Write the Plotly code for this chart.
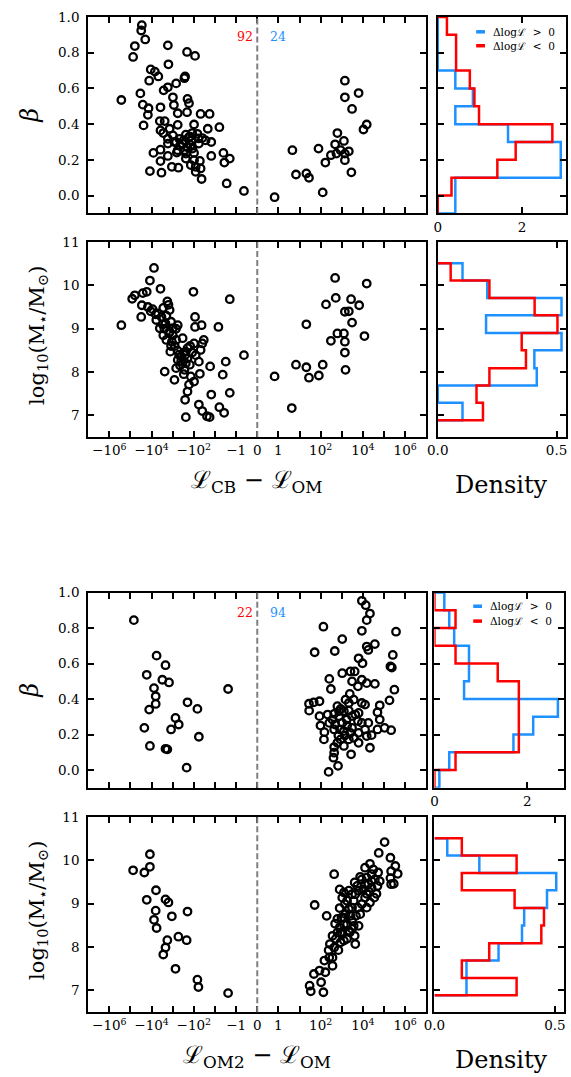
import numpy as np
import plotly.graph_objects as go

W, H = 571, 1077
FONT = "DejaVu Serif"
RED = "#ff0000"
BLUE = "#1e90ff"

# ---------------- data: L_CB - L_OM block ----------------
cb_beta_dL = [
    -2.9e4, -3.1e4, -2.0e4, -6.2e4, -7.5e4, -1.7e3, -210, -88, -1.6e3, -1.1e4,
    -7.0e3, -4.8e3, -1.3e4, -260, -280, -690, -1.7e3, -2.7e3, -3.4e4, -2.7e5,
    -980, -200, -170, -2.6e4, -1.4e4, -880, -3.8e3, -1.5e4, -580, -210,
    -48, -18, -4.1e3, -2.4e3, -2.4e4, -580, -98, -3.8e3, -1.4e3, -22,
    -6.2, -2.8e3, -980, -240, -170, -68, -40, -1.7e3, -490, -125,
    -28, -15, -1.7e3, -830, -340, -140, -58, -580, -280, -116,
    -3.8e3, -8.2e3, -640, -1.7e3, -240, -98, -15, -4.0, -2.0, -3.6,
    -3.8e3, -240, -98, -52, -140, -82, -1.1e3, -540, -1.2e4, -3.4e3,
    -82, -48, -43, -2.8, -0.63, -300, -150, -200, -450, -120,
    -700, -60,
    0.82, 4.6, 6.8, 21, 28, 79, 125, 167, 305, 483,
    619, 557, 1260, 1400, 1400, 2150, 2840, 1400, 1400, 6240,
    3060, 1.06e4, 1.51e4, 880,
]
cb_beta = [
    0.954, 0.924, 0.874, 0.837, 0.776, 0.841, 0.804, 0.782, 0.735, 0.706,
    0.694, 0.667, 0.643, 0.667, 0.657, 0.628, 0.606, 0.589, 0.572, 0.535,
    0.550, 0.541, 0.517, 0.509, 0.489, 0.507, 0.494, 0.452, 0.461, 0.467,
    0.457, 0.457, 0.417, 0.417, 0.393, 0.396, 0.398, 0.365, 0.374, 0.374,
    0.383, 0.350, 0.337, 0.341, 0.328, 0.346, 0.322, 0.318, 0.318, 0.309,
    0.309, 0.300, 0.291, 0.300, 0.291, 0.282, 0.291, 0.254, 0.254, 0.263,
    0.257, 0.239, 0.241, 0.222, 0.235, 0.239, 0.222, 0.239, 0.207, 0.185,
    0.193, 0.207, 0.198, 0.194, 0.171, 0.161, 0.161, 0.156, 0.137, 0.128,
    0.133, 0.152, 0.093, 0.068, 0.026, 0.310, 0.330, 0.270, 0.280, 0.350,
    0.300, 0.320,
    -0.009, 0.254, 0.118, 0.124, 0.100, 0.263, 0.018, 0.185, 0.226, 0.287,
    0.350, 0.235, 0.306, 0.235, 0.198, 0.248, 0.130, 0.643, 0.550, 0.574,
    0.485, 0.370, 0.398, 0.254,
]
cb_mass_dL = [
    -2.7e5, -8.3e4, -6.2e4, -2.9e4, -3.1e4, -2.6e4, -1.7e4, -1.2e4, -7.7e3, -3.8e3,
    -1.1e4, -6.4e3, -2.8e3, -1.8e3, -3.4e3, -4.1e3, -2.8e3, -2.2e3, -1.4e3, -1.2e3,
    -980, -580, -1.4e3, -2.0e3, -1.1e3, -1.3e3, -690, -340, -580, -2.4e3,
    -830, -280, -240, -200, -200, -155, -240, -98, -82, -105,
    -88, -88, -43, -40, -34, -48, -58, -52, -98, -140,
    -170, -200, -260, -240, -58, -40, -24, -18, -15, -17,
    -6.9, -4.3, -3.1, -6.2, -3.7, -2.0, -2.0, -0.63, -690, -400,
    -1.5e4, -9e3, -6e3, -5e3, -3e3, -2.5e3, -2e3, -1.5e3, -1e3, -800,
    -600, -500, -400, -300, -250, -700, -1.2e3, -450, -150, -120,
    -300, -1.6e3,
    0.82, 4.3, 6.8, 21, 21, 28, 82, 125, 179, 305,
    483, 519, 619, 1260, 1400, 1400, 1500, 1400, 2150, 2750,
    3060, 6650, 1.18e4, 1.51e4,
]
cb_mass = [
    9.08, 9.69, 9.77, 9.54, 9.27, 9.82, 9.85, 10.11, 10.40, 9.92,
    9.40, 9.33, 9.48, 9.63, 9.27, 9.01, 8.85, 9.12, 9.43, 9.16,
    9.01, 9.08, 8.93, 8.74, 8.70, 8.47, 8.74, 8.78, 8.28, 8.01,
    7.82, 8.05, 8.47, 8.55, 8.32, 8.17, 8.20, 8.66, 8.39, 9.85,
    9.27, 9.04, 9.08, 8.66, 8.74, 8.51, 8.24, 7.96, 7.78, 7.90,
    7.71, 7.55, 7.36, 6.96, 7.25, 7.10, 6.98, 6.96, 7.48, 8.13,
    9.04, 7.94, 8.24, 7.19, 7.06, 7.52, 9.68, 8.39, 8.09, 8.36,
    9.50, 9.45, 9.20, 9.35, 9.10, 9.00, 9.30, 8.90, 8.85, 8.60,
    8.50, 8.40, 8.25, 8.45, 8.40, 9.00, 8.60, 8.15, 8.60, 8.45,
    7.95, 9.55,
    7.90, 7.17, 8.17, 9.10, 8.11, 7.87, 7.92, 8.17, 9.56, 8.72,
    10.17, 9.71, 8.89, 8.89, 8.70, 8.45, 8.05, 9.39, 9.40, 9.68,
    9.14, 9.54, 8.83, 10.04,
]
cb_counts = ("92", "24")

# ---------------- data: L_OM2 - L_OM block ----------------
om2_beta_dL = [
    -6.9e4, -5.8e3, -2.2e3, -1.7e4, -3.1e3, -1.5e3, -7.7e3, -6.4e3, -6.4e3, -1.3e4,
    -200, -68, -2.4, -740, -520, -1.2e3, -2.2e4, -58, -1.2e4, -2.2e3,
    -1.8e3, -220,
    8.9e3, 1.36e4, 2.15e4, 1.51e4, 8.9e3, 3.68e5, 135, 1050, 52, 465,
    1.51e4, 1.8e4, 3.67e4, 2.59e5, 6240, 9550, 2.33e5, 2.0e5, 1050, 2560,
    4070, 256, 8870, 1.51e4, 3.67e4, 305, 5800, 3.08e5, 2390, 1500,
    3660, 1.81e5, 8870, 1.26e4, 28, 47, 88, 28.5, 6.25e4, 4.88e4,
    619, 880, 1260, 2150, 435, 214, 88, 741, 3060, 5800,
    8870, 364, 483, 1050, 1800, 3060, 98, 150, 143, 435,
    689, 1400, 2560, 6240, 1.51e4, 2.57e4, 4.88e4, 1.06e5, 2.16e5, 6.25e4,
    6240, 2.15e4, 435, 1260, 2750, 435, 404, 665, 238, 2150,
    3660, 826, 1700, 256, 1.26e4, 1260, 619, 880, 4350, 1.8e4,
    6240, 741, 2150, 3060,
]
om2_beta = [
    0.845, 0.645, 0.591, 0.537, 0.509, 0.494, 0.462, 0.416, 0.373, 0.341,
    0.382, 0.345, 0.457, 0.294, 0.257, 0.229, 0.238, 0.188, 0.136, 0.120,
    0.117, 0.014,
    0.954, 0.929, 0.882, 0.845, 0.785, 0.780, 0.808, 0.738, 0.664, 0.671,
    0.696, 0.677, 0.710, 0.649, 0.630, 0.602, 0.578, 0.584, 0.546, 0.556,
    0.556, 0.514, 0.509, 0.490, 0.486, 0.457, 0.472, 0.453, 0.429, 0.397,
    0.397, 0.393, 0.378, 0.369, 0.374, 0.382, 0.388, 0.335, 0.365, 0.326,
    0.360, 0.345, 0.332, 0.335, 0.317, 0.313, 0.304, 0.304, 0.304, 0.276,
    0.266, 0.285, 0.257, 0.266, 0.251, 0.238, 0.251, 0.214, 0.173, 0.229,
    0.195, 0.195, 0.210, 0.210, 0.192, 0.197, 0.229, 0.238, 0.225, 0.285,
    0.154, 0.126, 0.130, 0.136, 0.089, 0.098, 0.070, 0.024, -0.010, 0.173,
    0.182, 0.229, 0.285, 0.266, 0.229, 0.220, 0.154, 0.173, 0.313, 0.266,
    0.322, 0.332, 0.378, 0.500,
]
om2_mass_dL = [
    -7.5e4, -2.2e4, -1.2e4, -1.2e4, -1.7e4, -6.2e3, -2.2e3, -1.6e3, -6.4e3, -7.7e3,
    -5.8e3, -1.1e3, -200, -1.8e3, -540, -220, -2.2e3, -2.8e3, -740, -68,
    -61, -2.4,
    30, 34, 48, 88, 105, 135, 52, 192, 435, 150,
    256, 364, 238, 435, 519, 364, 619, 483, 790, 1050,
    880, 1260, 790, 1050, 1260, 1770, 1500, 1770, 2150, 2560,
    3060, 3660, 3060, 4070, 4350, 6240, 4690, 6240, 5340, 8870,
    1.06e4, 1.26e4, 1.51e4, 1.26e4, 2.15e4, 2.57e4, 1.8e4, 3.67e4, 3.43e4, 4.88e4,
    5.25e4, 6.25e4, 3.08e4, 5.6e4, 1.06e5, 2.0e5, 3.42e5, 4.42e5, 2.16e5, 2.0e5,
    2.88e5, 2.16e5, 2.57e4, 1.51e4, 7410, 3060, 1770, 690, 1260, 790,
    2150, 4350, 7410, 1.93e4, 2.15e4, 8870, 5800, 2390, 3060, 364,
    273, 1400, 2150, 4070, 1.26e4, 2.57e4, 4.38e4, 1.51e4, 970, 619,
    880, 1260, 167, 3660,
]
om2_mass = [
    9.77, 9.72, 9.85, 10.14, 9.09, 9.31, 9.10, 9.03, 8.84, 8.63,
    8.44, 8.71, 8.82, 8.16, 8.24, 8.16, 7.99, 7.83, 7.50, 7.25,
    7.08, 6.94,
    7.11, 6.98, 7.38, 7.46, 7.19, 6.96, 8.97, 8.72, 9.68, 7.69,
    7.76, 7.57, 7.93, 7.99, 8.19, 8.26, 8.34, 8.54, 8.45, 8.30,
    8.11, 8.15, 8.90, 9.14, 9.26, 9.07, 8.76, 8.53, 8.38, 8.72,
    8.91, 9.07, 9.22, 8.26, 8.07, 8.49, 8.72, 9.30, 9.41, 9.56,
    9.33, 9.14, 9.60, 9.83, 9.92, 9.68, 9.46, 9.56, 9.14, 9.41,
    9.72, 9.52, 9.79, 10.17, 10.42, 10.06, 9.87, 9.69, 9.75, 9.59,
    9.46, 9.45, 9.37, 8.91, 8.76, 8.61, 8.19, 7.93, 8.68, 9.33,
    9.30, 9.22, 9.62, 9.28, 9.03, 8.99, 8.91, 8.34, 8.42, 7.76,
    8.07, 8.99, 8.88, 9.49, 9.45, 9.52, 9.23, 9.23, 8.68, 8.65,
    8.34, 8.52, 7.42, 8.49,
]
om2_counts = ("22", "94")

# ---------------- histogram bins and counts ----------------
beta_edges = [-0.1, 0.0, 0.1, 0.2, 0.3, 0.4, 0.5, 0.6, 0.7, 0.8, 0.9, 1.0]
mass_edges = [6.89, 7.29, 7.69, 8.09, 8.50, 8.90, 9.31, 9.71, 10.11, 10.51]

cb_beta_counts_pos = [1, 1, 7, 7, 4, 1, 2, 1, 0, 0, 0]
cb_beta_counts_neg = [0, 3, 13, 17, 25, 9, 8, 7, 4, 4, 2]
cb_mass_counts_pos = [1, 0, 4, 4, 5, 2, 5, 2, 1]
cb_mass_counts_neg = [7, 6, 8, 14, 13, 19, 15, 8, 2]

om2_beta_counts_pos = [1, 3, 16, 20, 25, 6, 7, 7, 4, 3, 2]
om2_beta_counts_neg = [0, 1, 4, 4, 4, 4, 3, 1, 0, 1, 0]
om2_mass_counts_pos = [5, 5, 10, 14, 14, 18, 19, 7, 2]
om2_mass_counts_neg = [3, 1, 2, 4, 4, 3, 1, 3, 1]

legend_pos = "Δlogℒ  >  0"
legend_neg = "Δlogℒ  <  0"

# symlog tick positions (linear inside |x| <= 1, one unit per decade outside)
sym_major = [-7, -5, -3, -1, 0, 1, 3, 5, 7]
sym_major_text = ["−10<sup>6</sup>", "−10<sup>4</sup>", "−10<sup>2</sup>", "−1", "0", "1",
                  "10<sup>2</sup>", "10<sup>4</sup>", "10<sup>6</sup>"]
sym_minor = [-6, -4, -2, 2, 4, 6]


# ---------------- helpers ----------------
def symlog(v):
    v = np.asarray(v, dtype=float)
    a = np.abs(v)
    return np.where(a <= 1, v, np.sign(v) * (1 + np.log10(np.maximum(a, 1))))


def density_outline(edges, counts):
    edges = np.asarray(edges, dtype=float)
    counts = np.asarray(counts, dtype=float)
    dens = counts / (counts.sum() * np.diff(edges))
    xs, ys = [0.0], [edges[0]]
    for i, d in enumerate(dens):
        xs += [d, d]
        ys += [edges[i], edges[i + 1]]
    xs.append(0.0)
    ys.append(edges[-1])
    return xs, ys


def dom_y(top_px, bot_px):
    return [1 - bot_px / H, 1 - top_px / H]


def px(xp):
    return xp / W


def py(yp):
    return 1 - yp / H


def label(x, y, text, size, color="black", angle=0, xanchor="center"):
    return dict(x=px(x), y=py(y), xref="paper", yref="paper", text=text,
                showarrow=False, textangle=angle, xanchor=xanchor, yanchor="middle",
                font=dict(family=FONT, size=size, color=color))


fig = go.Figure()

axis_base = dict(
    showline=True, linewidth=2, linecolor="black", mirror="ticks",
    ticks="inside", ticklen=6, tickwidth=1.5, tickcolor="black",
    showgrid=False, zeroline=False,
    tickfont=dict(family=FONT, size=13.5, color="black"),
)

SC_X = [79 / W, 425 / W]
blocks = [
    dict(beta_dL=cb_beta_dL, beta=cb_beta, mass_dL=cb_mass_dL, mass=cb_mass,
         counts=cb_counts,
         hb=(cb_beta_counts_pos, cb_beta_counts_neg),
         hm=(cb_mass_counts_pos, cb_mass_counts_neg),
         ybeta=(9, 207), ymass=(235.7, 432.3), hx=(436.7, 567.7),
         hb_range=3.036, hm_range=0.5387,
         xtitle="ℒ<sub>CB</sub> − ℒ<sub>OM</sub>",
         leg_y=(24, 38), leg_x=(476, 485, 491)),
    dict(beta_dL=om2_beta_dL, beta=om2_beta, mass_dL=om2_mass_dL, mass=om2_mass,
         counts=om2_counts,
         hb=(om2_beta_counts_pos, om2_beta_counts_neg),
         hm=(om2_mass_counts_pos, om2_mass_counts_neg),
         ybeta=(589, 785.7), ymass=(815, 1011.7), hx=(433.3, 565.5),
         hb_range=2.783, hm_range=0.536,
         xtitle="ℒ<sub>OM2</sub> − ℒ<sub>OM</sub>",
         leg_y=(602.7, 617.7), leg_x=(473, 482, 488)),
]

annotations = []
shapes = []
marker = dict(symbol="circle-open", size=7.5, color="black", line=dict(width=2.3, color="black"))

for b, blk in enumerate(blocks):
    n0 = 4 * b
    ax = [n0 + k + 1 for k in range(4)]  # scatter beta, scatter mass, hist beta, hist mass
    names = ["" if a == 1 else str(a) for a in ax]

    # scatter panels
    fig.add_trace(go.Scatter(x=symlog(blk["beta_dL"]), y=blk["beta"], mode="markers",
                             marker=marker, showlegend=False,
                             xaxis="x" + names[0], yaxis="y" + names[0]))
    fig.add_trace(go.Scatter(x=symlog(blk["mass_dL"]), y=blk["mass"], mode="markers",
                             marker=marker, showlegend=False,
                             xaxis="x" + names[1], yaxis="y" + names[1]))

    # histogram panels (blue under red)
    for counts, col in ((blk["hb"][0], BLUE), (blk["hb"][1], RED)):
        xs, ys = density_outline(beta_edges, counts)
        fig.add_trace(go.Scatter(x=xs, y=ys, mode="lines", line=dict(color=col, width=2.5),
                                 showlegend=False, xaxis="x" + names[2], yaxis="y" + names[2]))
    for counts, col in ((blk["hm"][0], BLUE), (blk["hm"][1], RED)):
        xs, ys = density_outline(mass_edges, counts)
        fig.add_trace(go.Scatter(x=xs, y=ys, mode="lines", line=dict(color=col, width=2.5),
                                 showlegend=False, xaxis="x" + names[3], yaxis="y" + names[3]))

    yb = dom_y(*blk["ybeta"])
    ym = dom_y(*blk["ymass"])
    hx = [blk["hx"][0] / W, blk["hx"][1] / W]

    beta_y = dict(axis_base, range=[-0.1, 1.0], tickvals=[0, 0.2, 0.4, 0.6, 0.8, 1.0],
                  ticktext=["0.0", "0.2", "0.4", "0.6", "0.8", "1.0"])
    mass_y = dict(axis_base, range=[6.5, 11.0], tickvals=[7, 8, 9, 10, 11],
                  ticktext=["7", "8", "9", "10", "11"])
    sym_x = dict(axis_base, range=[-8, 8], tickvals=sym_major, ticktext=sym_major_text,
                 minor=dict(tickvals=sym_minor, ticks="inside", ticklen=6, tickwidth=1.5,
                            tickcolor="black", showgrid=False))

    fig.update_layout(**{
        "xaxis" + names[0]: dict(sym_x, domain=SC_X, anchor="y" + names[0], showticklabels=False),
        "yaxis" + names[0]: dict(beta_y, domain=yb, anchor="x" + names[0], ticklabelstandoff=4),
        "xaxis" + names[1]: dict(sym_x, domain=SC_X, anchor="y" + names[1]),
        "yaxis" + names[1]: dict(mass_y, domain=ym, anchor="x" + names[1], ticklabelstandoff=4),
        "xaxis" + names[2]: dict(axis_base, domain=hx, anchor="y" + names[2],
                                 range=[0, blk["hb_range"]], tickvals=[0, 2], ticktext=["0", "2"]),
        "yaxis" + names[2]: dict(beta_y, domain=yb, anchor="x" + names[2], showticklabels=False),
        "xaxis" + names[3]: dict(axis_base, domain=hx, anchor="y" + names[3],
                                 range=[0, blk["hm_range"]], tickvals=[0, 0.5],
                                 ticktext=["0.0", "0.5"]),
        "yaxis" + names[3]: dict(mass_y, domain=ym, anchor="x" + names[3], showticklabels=False),
    })

    # dashed zero line in both scatter panels
    for nm in names[:2]:
        shapes.append(dict(type="line", xref="x" + nm, yref="y" + nm + " domain",
                           x0=0, x1=0, y0=0, y1=1,
                           line=dict(color="#7f7f7f", width=2, dash="6px,3px")))

    # counts on either side of zero
    ytxt = blk["ybeta"][0] + 20
    annotations.append(label(239, ytxt, blk["counts"][0], 12.5, RED))
    annotations.append(label(273.5, ytxt, blk["counts"][1], 12.5, BLUE))

    # legend inside the beta histogram
    lx0, lx1, ltx = blk["leg_x"]
    for yy, col, txt in ((blk["leg_y"][0], BLUE, legend_pos), (blk["leg_y"][1], RED, legend_neg)):
        shapes.append(dict(type="line", xref="paper", yref="paper",
                           x0=px(lx0), x1=px(lx1), y0=py(yy), y1=py(yy),
                           line=dict(color=col, width=3.5)))
        annotations.append(label(ltx, yy, txt, 10.5, xanchor="left"))

    # axis titles
    cb = (blk["ybeta"][0] + blk["ybeta"][1]) / 2
    cm = (blk["ymass"][0] + blk["ymass"][1]) / 2 - 4
    annotations.append(label(20, cb, "<i>β</i>", 24, angle=-90))
    annotations.append(label(27, cm, "log<sub>10</sub>(M<sub>⋆</sub>/M<sub>⊙</sub>)", 21, angle=-90))
    xt_y = blk["ymass"][1] + 45
    annotations.append(label(252, xt_y, blk["xtitle"], 24))
    annotations.append(label(502, xt_y + 3, "Density", 24))

fig.update_layout(
    width=W, height=H,
    margin=dict(l=0, r=0, t=0, b=0),
    paper_bgcolor="white", plot_bgcolor="white",
    showlegend=False,
    annotations=annotations, shapes=shapes,
)

fig.write_html("out.html")
